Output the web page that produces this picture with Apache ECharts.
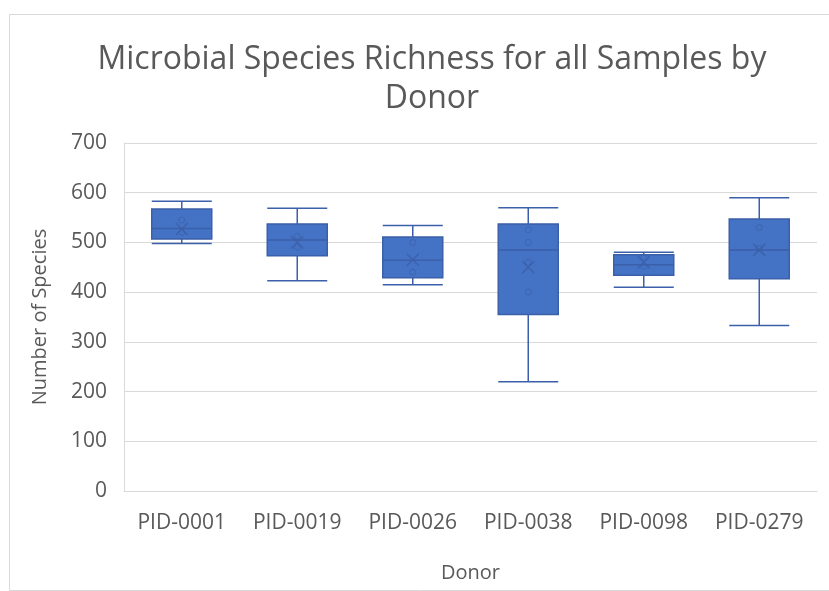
<!DOCTYPE html>
<html><head><meta charset="utf-8">
<script src="https://cdn.jsdelivr.net/npm/echarts@6/dist/echarts.min.js"></script>
<style>html,body{margin:0;padding:0;background:#fff}#c{width:829px;height:591px}</style>
</head><body><div id="c"></div>
<script>
const categories = ['PID-0001','PID-0019','PID-0026','PID-0038','PID-0098','PID-0279'];
// [min, Q1, median, Q3, max]
const boxValues = [
  [498, 507, 528, 567, 583],
  [423, 473, 505, 537, 569],
  [415, 429, 464, 511, 534],
  [220, 355, 485, 537, 570],
  [410, 434, 455, 475, 480],
  [333, 427, 485, 547, 590]
];
const meanValues = [527, 500, 465, 450, 460, 485];
const innerPoints = [
  [0, 545], [0, 520],
  [1, 512], [1, 490],
  [2, 500], [2, 440],
  [3, 525], [3, 500], [3, 460], [3, 400],
  [4, 470], [4, 452],
  [5, 530], [5, 488]
];
const yTicks = [0, 100, 200, 300, 400, 500, 600, 700];

const chart = echarts.init(document.getElementById('c'));
const font = '"Open Sans", "Noto Sans", sans-serif';
chart.setOption({
  backgroundColor: '#fff',
  animation: false,
  title: {
    text: 'Microbial Species Richness for all Samples by\nDonor',
    left: '51.5%', textAlign: 'center', top: 35,
    textStyle: { fontFamily: font, fontSize: 32, fontWeight: 'normal', color: '#595959', lineHeight: 39 }
  },
  graphic: [{
    type: 'rect', left: 7, top: 12, shape: { width: 830, height: 576 },
    style: { fill: 'none', stroke: '#d9d9d9', lineWidth: 1 }
  }],
  grid: { left: 124, right: 12, top: 143, bottom: 100 },
  xAxis: {
    type: 'category', data: categories,
    name: 'Donor', nameLocation: 'middle', nameGap: 72,
    nameTextStyle: { fontFamily: font, fontSize: 20, color: '#595959' },
    axisLine: { lineStyle: { color: '#d9d9d9' } },
    axisTick: { show: false },
    axisLabel: { fontFamily: font, fontSize: 21, color: '#595959', margin: 22 }
  },
  yAxis: {
    type: 'value', min: yTicks[0], max: yTicks[yTicks.length - 1], interval: 100,
    name: 'Number of Species', nameLocation: 'middle', nameGap: 74,
    nameTextStyle: { fontFamily: font, fontSize: 20, color: '#595959' },
    axisLine: { show: true, lineStyle: { color: '#d9d9d9' } },
    axisTick: { show: false },
    axisLabel: { fontFamily: font, fontSize: 21, color: '#595959', margin: 17 },
    splitLine: { lineStyle: { color: '#d9d9d9' } }
  },
  series: [
    {
      type: 'boxplot', data: boxValues, boxWidth: [60, 60],
      itemStyle: { color: '#4472C4', borderColor: '#3B5FA8', borderWidth: 1.5 },
      z: 2
    },
    {
      type: 'scatter', data: innerPoints, symbol: 'circle', symbolSize: 6,
      itemStyle: { color: 'none', borderColor: '#3B5FA8', borderWidth: 1, opacity: 0.7 },
      z: 3
    },
    {
      type: 'scatter', data: meanValues.map((v, i) => [i, v]),
      symbol: 'path://M0,0 L10,10 M10,0 L0,10', symbolSize: 12,
      itemStyle: { color: 'none', borderColor: '#3B5FA8', borderWidth: 1.5 },
      z: 4
    }
  ]
});
</script></body></html>
